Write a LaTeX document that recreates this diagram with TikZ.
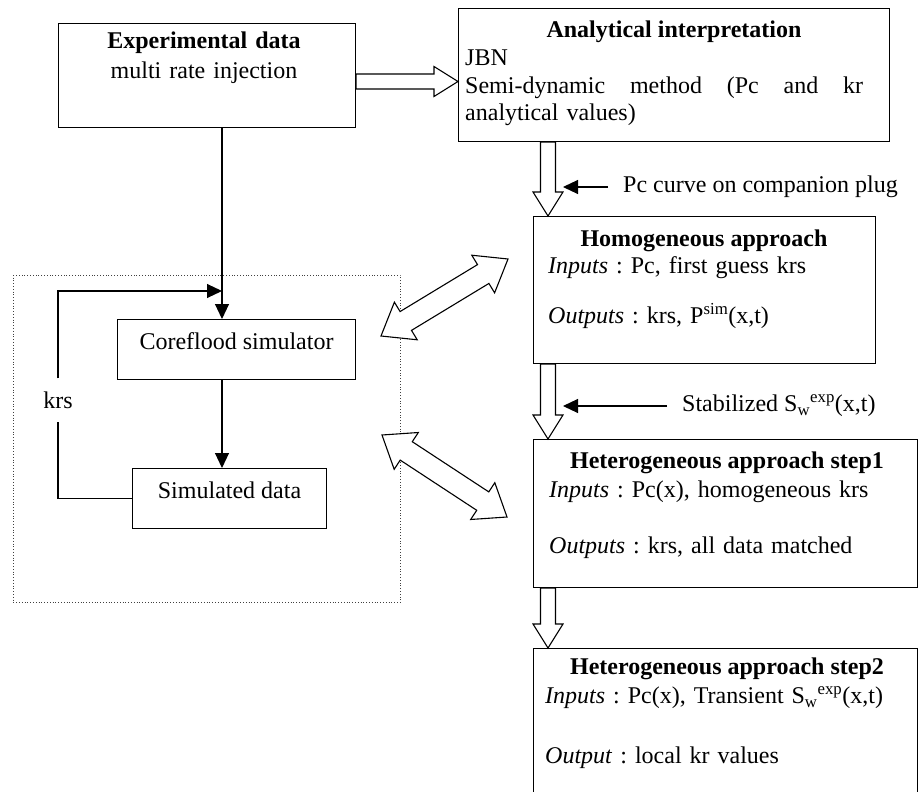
\documentclass[tikz,border=0pt]{standalone}
\usepackage{fontspec}
\setmainfont{Liberation Serif}
\usetikzlibrary{arrows.meta,calc}
\frenchspacing

\newcommand{\blockarrow}[2]{%
	\coordinate (ba-s) at (#1);
	\coordinate (ba-e) at (#2);
	\coordinate (ba-h) at ($(ba-e)!24pt!(ba-s)$);
	\draw[hollow] ($(ba-s)!7.5pt!90:(ba-e)$) -- ($(ba-h)!7.5pt!-90:(ba-s)$)
		-- ($(ba-h)!15pt!-90:(ba-s)$) -- (ba-e) -- ($(ba-h)!15pt!90:(ba-s)$)
		-- ($(ba-h)!7.5pt!90:(ba-s)$) -- ($(ba-s)!7.5pt!-90:(ba-e)$) -- cycle;}

\newcommand{\dblarrow}[2]{%
	\coordinate (da-s) at (#1);
	\coordinate (da-e) at (#2);
	\coordinate (da-h1) at ($(da-s)!29pt!(da-e)$);
	\coordinate (da-h2) at ($(da-e)!29pt!(da-s)$);
	\draw[hollow] (da-s) -- ($(da-h1)!22pt!90:(da-e)$) -- ($(da-h1)!11pt!90:(da-e)$)
		-- ($(da-h2)!11pt!-90:(da-s)$) -- ($(da-h2)!22pt!-90:(da-s)$) -- (da-e)
		-- ($(da-h2)!22pt!90:(da-s)$) -- ($(da-h2)!11pt!90:(da-s)$)
		-- ($(da-h1)!11pt!-90:(da-e)$) -- ($(da-h1)!22pt!-90:(da-e)$) -- cycle;}

\begin{document}
\begin{tikzpicture}[x=1pt,y=-1pt,
		every node/.style={font=\fontsize{24pt}{27.6pt}\selectfont, inner sep=0pt},
		box/.style={draw, line width=1.1pt, anchor=north west},
		simbox/.style={box, minimum height=60pt, text height=16.4pt, text depth=17.4pt},
		body/.style={anchor=north west, align=left},
		title/.style={anchor=north, font=\fontsize{24pt}{27.6pt}\selectfont\bfseries},
		hollow/.style={draw, fill=white, line width=1.1pt, line join=miter},
		arr/.style={line width=1.1pt, -{Triangle[length=15pt,width=14pt]}}]
		\useasboundingbox (0,0) rectangle (919,792);

		% boxes
		\node[box, minimum width=297pt, minimum height=104pt] (exp) at (58,23) {};
		\node[box, minimum width=431pt, minimum height=133pt] (ana) at (458,8) {};
		\node[box, minimum width=342pt, minimum height=147pt] (homo) at (533,216) {};
		\node[box, minimum width=384pt, minimum height=148pt] (het1) at (533,439) {};
		\node[box, minimum width=384pt, minimum height=170pt] (het2) at (533,648) {};
		\node[draw, dotted, line width=0.8pt, black!75, anchor=north west,
			minimum width=387pt, minimum height=327pt] (frame) at (13,275) {};
		\node[simbox, minimum width=238pt] (core) at (117,319) {Coreflood simulator};
		\node[simbox, minimum width=194pt] (sim) at (132,468) {Simulated data};

		% texts
		\node[anchor=north, align=center, text width=290pt] (exptxt) at (204,29)
			{\strut\textbf{Experimental data}\\[2.4pt]multi rate injection};
		\node[title] (anatitle) at (674,18) {\strut Analytical interpretation};
		\node[body, text width=398pt] (anabody) at (465,46)
			{\strut JBN\\Semi-dynamic\hfill method\hfill (Pc\hfill and\hfill kr\\analytical values)};
		\node[title] (homotitle) at (704,227) {\strut Homogeneous approach};
		\node[body, text width=320pt] (homobody) at (548,254)
			{\strut\textit{Inputs} : Pc, first guess krs\\[21pt]\textit{Outputs} : krs, P\textsuperscript{sim}(x,t)};
		\node[title] (het1title) at (727,449) {\strut Heterogeneous approach step1};
		\node[body, text width=360pt] (het1body) at (549,478)
			{\strut\textit{Inputs} : Pc(x), homogeneous krs\\[28.4pt]\textit{Outputs} : krs, all data matched};
		\node[title] (het2title) at (727,655) {\strut Heterogeneous approach step2};
		\node[body, text width=365pt] (het2body) at (545,684)
			{\strut\textit{Inputs} : Pc(x), Transient S\textsubscript{w}\textsuperscript{exp}(x,t)\\[32pt]\textit{Output} : local kr values};
		\node[anchor=west] (pclab) at (623,187) {Pc curve on companion plug};
		\node[anchor=west] (stablab) at (682,406) {Stabilized S\textsubscript{w}\textsuperscript{exp}(x,t)};
		\node[inner ysep=13pt] (krs) at (58,400) {krs};

		\coordinate (vx) at (222,0);
		\coordinate (hy) at (0,81.5);
		\coordinate (cx) at (548,0);
		\coordinate (tipx) at (563,0);
		\coordinate (loop) at (222,291);
		\coordinate (dA1) at (381,336);
		\coordinate (dA2) at (508,259);
		\coordinate (dB1) at (382,435);
		\coordinate (dB2) at (507,517);

		% simulator loop
		\draw[arr] (exp.south -| vx) -- (core.north -| vx);
		\draw[arr] (core.south -| vx) -- (sim.north -| vx);
		\draw[line width=1.1pt] (sim.west) -| (krs.south);
		\draw[arr] (krs.north) |- (loop);

		\draw[arr] ([xshift=-15pt]pclab.west) -- (pclab.west -| tipx);
		\draw[arr] ([xshift=-15pt]stablab.west) -- (stablab.west -| tipx);

		% hollow arrows
		\blockarrow{exp.east |- hy}{ana.west |- hy}
		\blockarrow{ana.south -| cx}{homo.north -| cx}
		\blockarrow{homo.south -| cx}{het1.north -| cx}
		\blockarrow{het1.south -| cx}{het2.north -| cx}
		\dblarrow{dA1}{dA2}
		\dblarrow{dB1}{dB2}
\end{tikzpicture}
\end{document}
